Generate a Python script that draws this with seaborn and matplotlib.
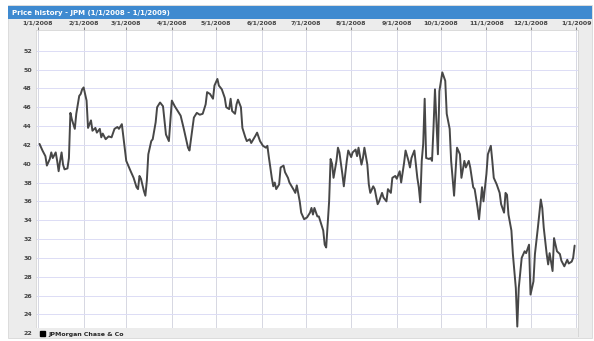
import pandas as pd
import seaborn as sns
import matplotlib.pyplot as plt
from matplotlib.patches import Rectangle, Patch

# --- DATA ---
# days since 1/1/2008 and the closing price on that day
day_offset = [
    1, 3, 5, 6, 8, 9, 10, 12, 13, 14, 15, 16, 17, 18, 20, 21, 22, 23, 25, 26,
    28, 29, 30, 31, 33, 34, 36, 37, 39, 40, 42, 43, 44, 46, 48, 50, 52, 54, 55, 57,
    58, 60, 63, 65, 67, 68, 69, 70, 72, 73, 74, 75, 77, 78, 80, 81, 83, 85, 87, 89,
    91, 93, 97, 99, 102, 103, 106, 108, 110, 112, 114, 115, 117, 119, 120, 122, 123, 125, 127, 128,
    130, 131, 132, 134, 135, 136, 138, 139, 141, 142, 144, 145, 148, 149, 151, 153, 155, 156, 157, 159,
    160, 161, 162, 164, 165, 167, 168, 170, 171, 174, 175, 176, 178, 179, 181, 183, 185, 186, 187, 188,
    190, 191, 192, 194, 195, 196, 198, 199, 200, 201, 203, 204, 205, 207, 208, 210, 211, 213, 214, 216,
    217, 218, 220, 221, 222, 224, 225, 226, 228, 229, 231, 232, 234, 235, 237, 238, 240, 241, 243, 244,
    246, 247, 249, 250, 252, 253, 254, 256, 257, 258, 259, 260, 261, 262, 263, 264, 266, 267, 268, 269,
    270, 272, 273, 275, 277, 278, 280, 281, 283, 285, 287, 288, 290, 291, 293, 294, 296, 297, 299, 300,
    302, 303, 305, 306, 308, 309, 310, 312, 314, 315, 317, 318, 319, 320, 322, 323, 325, 326, 327, 329,
    331, 332, 334, 335, 337, 338, 340, 342, 343, 344, 346, 347, 348, 350, 351, 353, 355, 356, 358, 360,
    361, 363, 364, 365,
]
close_price = [
    42.1, 41.4, 40.8, 39.8, 40.5, 41.2, 40.6, 41.2, 40.3, 39.2, 40.3, 41.2, 39.9, 39.4, 39.5, 40.6, 45.4, 44.7, 43.7, 45.3,
    47.2, 47.4, 47.9, 48.1, 46.7, 43.8, 44.6, 43.5, 43.8, 43.3, 43.7, 42.8, 43.2, 42.6, 42.9, 42.8, 43.7, 43.9, 43.7, 44.2,
    42.9, 40.3, 39.2, 38.5, 37.5, 37.3, 38.7, 38.4, 37.1, 36.6, 38.2, 41.0, 42.4, 42.6, 44.4, 46.0, 46.5, 46.1, 43.1, 42.4,
    46.7, 46.1, 45.1, 43.8, 41.7, 41.4, 44.9, 45.4, 45.2, 45.3, 46.3, 47.6, 47.4, 46.9, 48.3, 49.0, 48.3, 47.9, 47.0, 46.0,
    45.8, 46.9, 45.6, 45.3, 46.3, 46.8, 46.0, 43.8, 42.8, 42.4, 42.6, 42.2, 43.0, 43.3, 42.4, 41.9, 41.7, 41.9, 40.7, 38.5,
    37.6, 38.0, 37.3, 37.8, 39.6, 39.8, 39.1, 38.5, 38.0, 37.2, 36.9, 37.7, 36.0, 34.8, 34.1, 34.3, 34.8, 35.3, 34.6, 35.3,
    34.4, 34.4, 33.9, 32.9, 31.4, 31.1, 36.0, 40.5, 40.0, 38.5, 40.3, 41.7, 41.2, 38.9, 37.6, 40.3, 41.4, 40.7, 41.2, 41.5,
    40.8, 41.7, 39.9, 40.6, 41.7, 39.9, 37.8, 36.9, 37.6, 37.3, 35.7, 36.0, 36.9, 36.4, 36.0, 37.3, 36.9, 38.5, 38.7, 38.4,
    39.2, 38.0, 40.1, 41.4, 40.3, 39.6, 40.6, 41.4, 40.0, 38.5, 37.5, 35.9, 40.3, 42.1, 46.9, 40.6, 40.5, 40.6, 40.3, 43.8,
    47.9, 41.0, 47.7, 49.7, 48.8, 45.3, 43.7, 40.3, 36.6, 41.7, 41.0, 38.5, 40.3, 39.6, 40.3, 39.6, 37.5, 37.3, 35.3, 34.1,
    37.5, 36.0, 38.9, 41.0, 41.9, 40.3, 38.5, 37.8, 36.9, 35.7, 34.8, 36.9, 36.7, 34.6, 32.9, 30.4, 26.8, 22.7, 26.8, 30.0,
    30.7, 30.5, 31.4, 26.1, 27.5, 30.4, 33.2, 36.2, 35.3, 33.2, 30.4, 29.3, 30.5, 28.6, 32.1, 30.7, 30.4, 29.7, 29.1, 29.8,
    29.4, 29.6, 30.0, 31.3,
]
month_ticks = pd.date_range("2008-01-01", "2009-01-01", freq="MS")
month_labels = ["1/1/2008", "2/1/2008", "3/1/2008", "4/1/2008", "5/1/2008", "6/1/2008",
                "7/1/2008", "8/1/2008", "9/1/2008", "10/1/2008", "11/1/2008", "12/1/2008",
                "1/1/2009"]
price_ticks = list(range(22, 53, 2))

df = pd.DataFrame({
    "Date": pd.Timestamp("2008-01-01") + pd.to_timedelta(day_offset, unit="D"),
    "Close": close_price,
})

sns.set_theme(style="white")
plt.rcParams['font.family'] = ['DejaVu Sans']

W, H = 594, 341
fig = plt.figure(figsize=(W / 100, H / 100), dpi=100)
fig.patch.set_facecolor("white")

# gray panel + blue title bar
fig.patches.append(Rectangle((8 / W, 3 / H), 584 / W, 320 / H + 13 / H,
                             transform=fig.transFigure, facecolor="#ececec",
                             edgecolor="#d8d8d8", lw=0.6, zorder=0))
fig.patches.append(Rectangle((8 / W, 1 - 19 / H), 584 / W, 13 / H,
                             transform=fig.transFigure, facecolor="#3f8ad0",
                             edgecolor="none", zorder=1))
fig.text(12 / W, 1 - 12.5 / H, "Price history - JPM (1/1/2008 - 1/1/2009)",
         color="white", fontsize=5, fontweight="bold", va="center", ha="left")

ax = fig.add_axes([36 / W, 1 - 336 / H, 542 / W, 306 / H])
ax.set_zorder(2)
ax.set_facecolor("white")

sns.lineplot(data=df, x="Date", y="Close", color="#474747", linewidth=1.4, ax=ax)

ax.set_xlim(pd.Timestamp("2008-01-01") - pd.Timedelta(days=1.4),
            pd.Timestamp("2008-01-01") + pd.Timedelta(days=367.3))
ax.set_ylim(21.7, 54.2)
ax.xaxis.tick_top()
ax.set_xticks(month_ticks)
ax.set_xticklabels(month_labels)
ax.set_yticks(price_ticks)
ax.set_yticklabels([str(v) for v in price_ticks])
ax.tick_params(axis="x", labelsize=4.5, colors="#444444", length=2, width=0.5, pad=1)
ax.tick_params(axis="y", labelsize=4.5, colors="#444444", length=0, pad=3)
for lbl in ax.get_xticklabels() + ax.get_yticklabels():
    lbl.set_fontweight("bold")

ax.grid(True, axis="y", color="#dcdcf5", linewidth=0.7)
ax.grid(True, axis="x", color="#d6d7e2", linewidth=0.7)
ax.set_xlabel("")
ax.set_ylabel("")
for side, sp in ax.spines.items():
    sp.set_color("#d4d4d4")
    sp.set_linewidth(0.6)

# legend strip at the bottom, drawn over the plot
ax.add_patch(Rectangle((36 / W, 3 / H), 542 / W, 10 / H,
                       transform=fig.transFigure, facecolor="#ececec",
                       edgecolor="none", zorder=10, clip_on=False))
leg = fig.legend(handles=[Patch(facecolor="black", edgecolor="black", label="JPMorgan Chase & Co")],
                 loc="lower left", bbox_to_anchor=(36 / W, 0.0), frameon=False,
                 handlelength=0.8, handleheight=0.8, handletextpad=0.5,
                 borderpad=0.2, prop={"weight": "bold", "size": 4.5})
leg.set_zorder(20)

fig.savefig("out.png", dpi=100)
